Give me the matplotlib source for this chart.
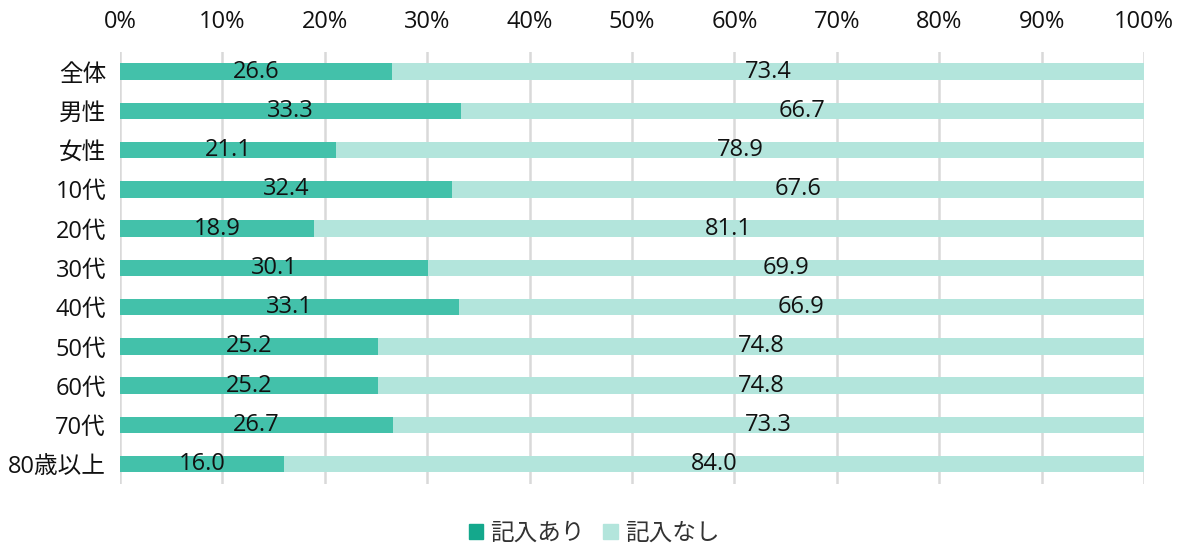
import matplotlib.pyplot as plt
import numpy as np

plt.rcParams['font.family'] = ['Open Sans', 'Noto Sans CJK JP', 'DejaVu Sans']

groups = ["全体", "男性", "女性", "10代", "20代", "30代", "40代", "50代", "60代", "70代", "80歳以上"]
ari = [26.6, 33.3, 21.1, 32.4, 18.9, 30.1, 33.1, 25.2, 25.2, 26.7, 16.0]
nashi = [73.4, 66.7, 78.9, 67.6, 81.1, 69.9, 66.9, 74.8, 74.8, 73.3, 84.0]
ticks = list(range(0, 101, 10))

fig = plt.figure(figsize=(11.88, 5.48), dpi=100)
ax = fig.add_axes([0.101, 0.117, 0.862, 0.788])

y = np.arange(len(groups))
ari = np.array(ari)
nashi = np.array(nashi)
ax.barh(y, ari, height=0.42, color="#43c1aa", zorder=2)
ax.barh(y, nashi, left=ari, height=0.42, color="#b3e5dc", zorder=2)

for i in range(len(groups)):
    ax.text(ari[i] / 2, y[i], f"{ari[i]:.1f}", ha="center", va="center", fontsize=17, color="#111111", zorder=3)
    ax.text(ari[i] + nashi[i] / 2, y[i], f"{nashi[i]:.1f}", ha="center", va="center", fontsize=17, color="#111111", zorder=3)

ax.set_xlim(0, 100)
ax.set_ylim(len(groups) - 0.5, -0.5)
ax.set_xticks(ticks)
ax.set_xticklabels([f"{t}%" for t in ticks])
ax.set_yticks(y)
ax.set_yticklabels(groups)
ax.xaxis.tick_top()
ax.tick_params(axis="both", length=0, labelsize=17, colors="#111111")
ax.tick_params(axis="x", pad=13)
ax.tick_params(axis="y", pad=10)
ax.grid(axis="x", color="#d9d9d9", linewidth=1.8, zorder=0)
for s in ax.spines.values():
    s.set_visible(False)

h1 = plt.Rectangle((0, 0), 1, 1, color="#14a88c")
h2 = plt.Rectangle((0, 0), 1, 1, color="#b3e5dc")
fig.legend([h1, h2], ["記入あり", "記入なし"], loc="lower center", bbox_to_anchor=(0.5, -0.035),
           ncol=2, frameon=False, fontsize=17, handlelength=0.6, handleheight=0.6,
           handletextpad=0.3, columnspacing=0.8, labelcolor="#333333")

plt.savefig("out.png", dpi=100)
